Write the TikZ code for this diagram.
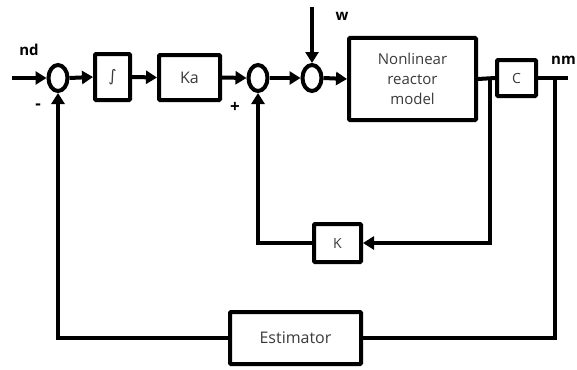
\documentclass[tikz,border=0pt]{standalone}
\usepackage{fontspec}
\setmainfont{Open Sans}
\newfontfamily\symfont{DejaVu Sans}
\usetikzlibrary{arrows.meta,shapes.geometric}

\definecolor{txtgray}{HTML}{3A3A3A}

\tikzset{
  block/.style={draw, line width=4pt, rectangle, rounded corners=1pt, align=center,
    inner sep=0pt, text=txtgray},
  sumnode/.style={draw, line width=4pt, ellipse, minimum width=19pt,
    minimum height=26pt, inner sep=0pt},
  wire/.style={line width=4pt},
  sig/.style={wire, -{Triangle[length=11pt,width=13pt]}},
  lbl/.style={font=\fontsize{15}{17}\selectfont\bfseries},
}

\begin{document}
\begin{tikzpicture}[x=1pt,y=-1pt]
  \useasboundingbox (0,0) rectangle (577,369);
  % Summing junctions
  \node[sumnode] (s1) at (58,78) {};
  \node[sumnode] (s2) at (258,78) {};
  \node[sumnode] (s3) at (312,78) {};
  % Forward blocks
  \node[block, minimum width=35pt, minimum height=46pt] (integ) at (112.5,77)
    {\fontsize{16}{18}\selectfont\symfont ∫};
  \node[block, minimum width=61pt, minimum height=45pt, font=\fontsize{16}{18}\selectfont]
    (ka) at (189.5,77.5) {Ka};
  \node[block, minimum width=127pt, minimum height=82pt, font=\fontsize{15}{20}\selectfont]
    (plant) at (412.5,79) {Nonlinear\\reactor\\model};
  \node[block, minimum width=39pt, minimum height=36pt, font=\fontsize{14}{16}\selectfont]
    (c) at (516.5,78) {C};
  % Feedback blocks
  \node[block, minimum width=47pt, minimum height=38pt, font=\fontsize{14}{16}\selectfont]
    (k) at (337.5,243) {K};
  \node[block, minimum width=131pt, minimum height=52pt, font=\fontsize{16}{19}\selectfont]
    (est) at (295.5,338) {Estimator};
  % Free ends and branch points
  \coordinate (in) at (12,78);
  \coordinate (wtop) at (312,7);
  \coordinate (j1) at (490,78);
  \coordinate (j2) at (555,78);
  \coordinate (out) at (568,78);
  % Labels
  \node[lbl] (ndlbl) at (29,50) {nd};
  \node[lbl] (wlbl) at (342,16) {w};
  \node[lbl, anchor=east, inner sep=1pt] (nmlbl) at (577,60) {nm};
  \node[lbl, font=\fontsize{17}{19}\selectfont\bfseries] (minus) at (38,107) {-};
  \node[lbl, font=\fontsize{17}{19}\selectfont\bfseries] (plus) at (235,107) {+};
  % Forward path
  \draw[sig] (in) -- (s1.west);
  \draw[sig] (s1.east) -- (integ.west);
  \draw[sig] (integ.east) -- (ka.west);
  \draw[sig] (ka.east) -- (s2.west);
  \draw[sig] (s2.east) -- (s3.west);
  \draw[sig] (wtop) -- (s3.north);
  \draw[sig] (s3.east) -- (plant.west);
  \draw[wire] (plant.east) -- (c.west);
  \draw[wire] (c.east) -- (out);
  % State feedback
  \draw[sig] (j1) |- (k.east);
  \draw[sig] (k.west) -| (s2.south);
  % Estimator loop
  \draw[wire] (j2) |- (est.east);
  \draw[sig] (est.west) -| (s1.south);
\end{tikzpicture}
\end{document}
